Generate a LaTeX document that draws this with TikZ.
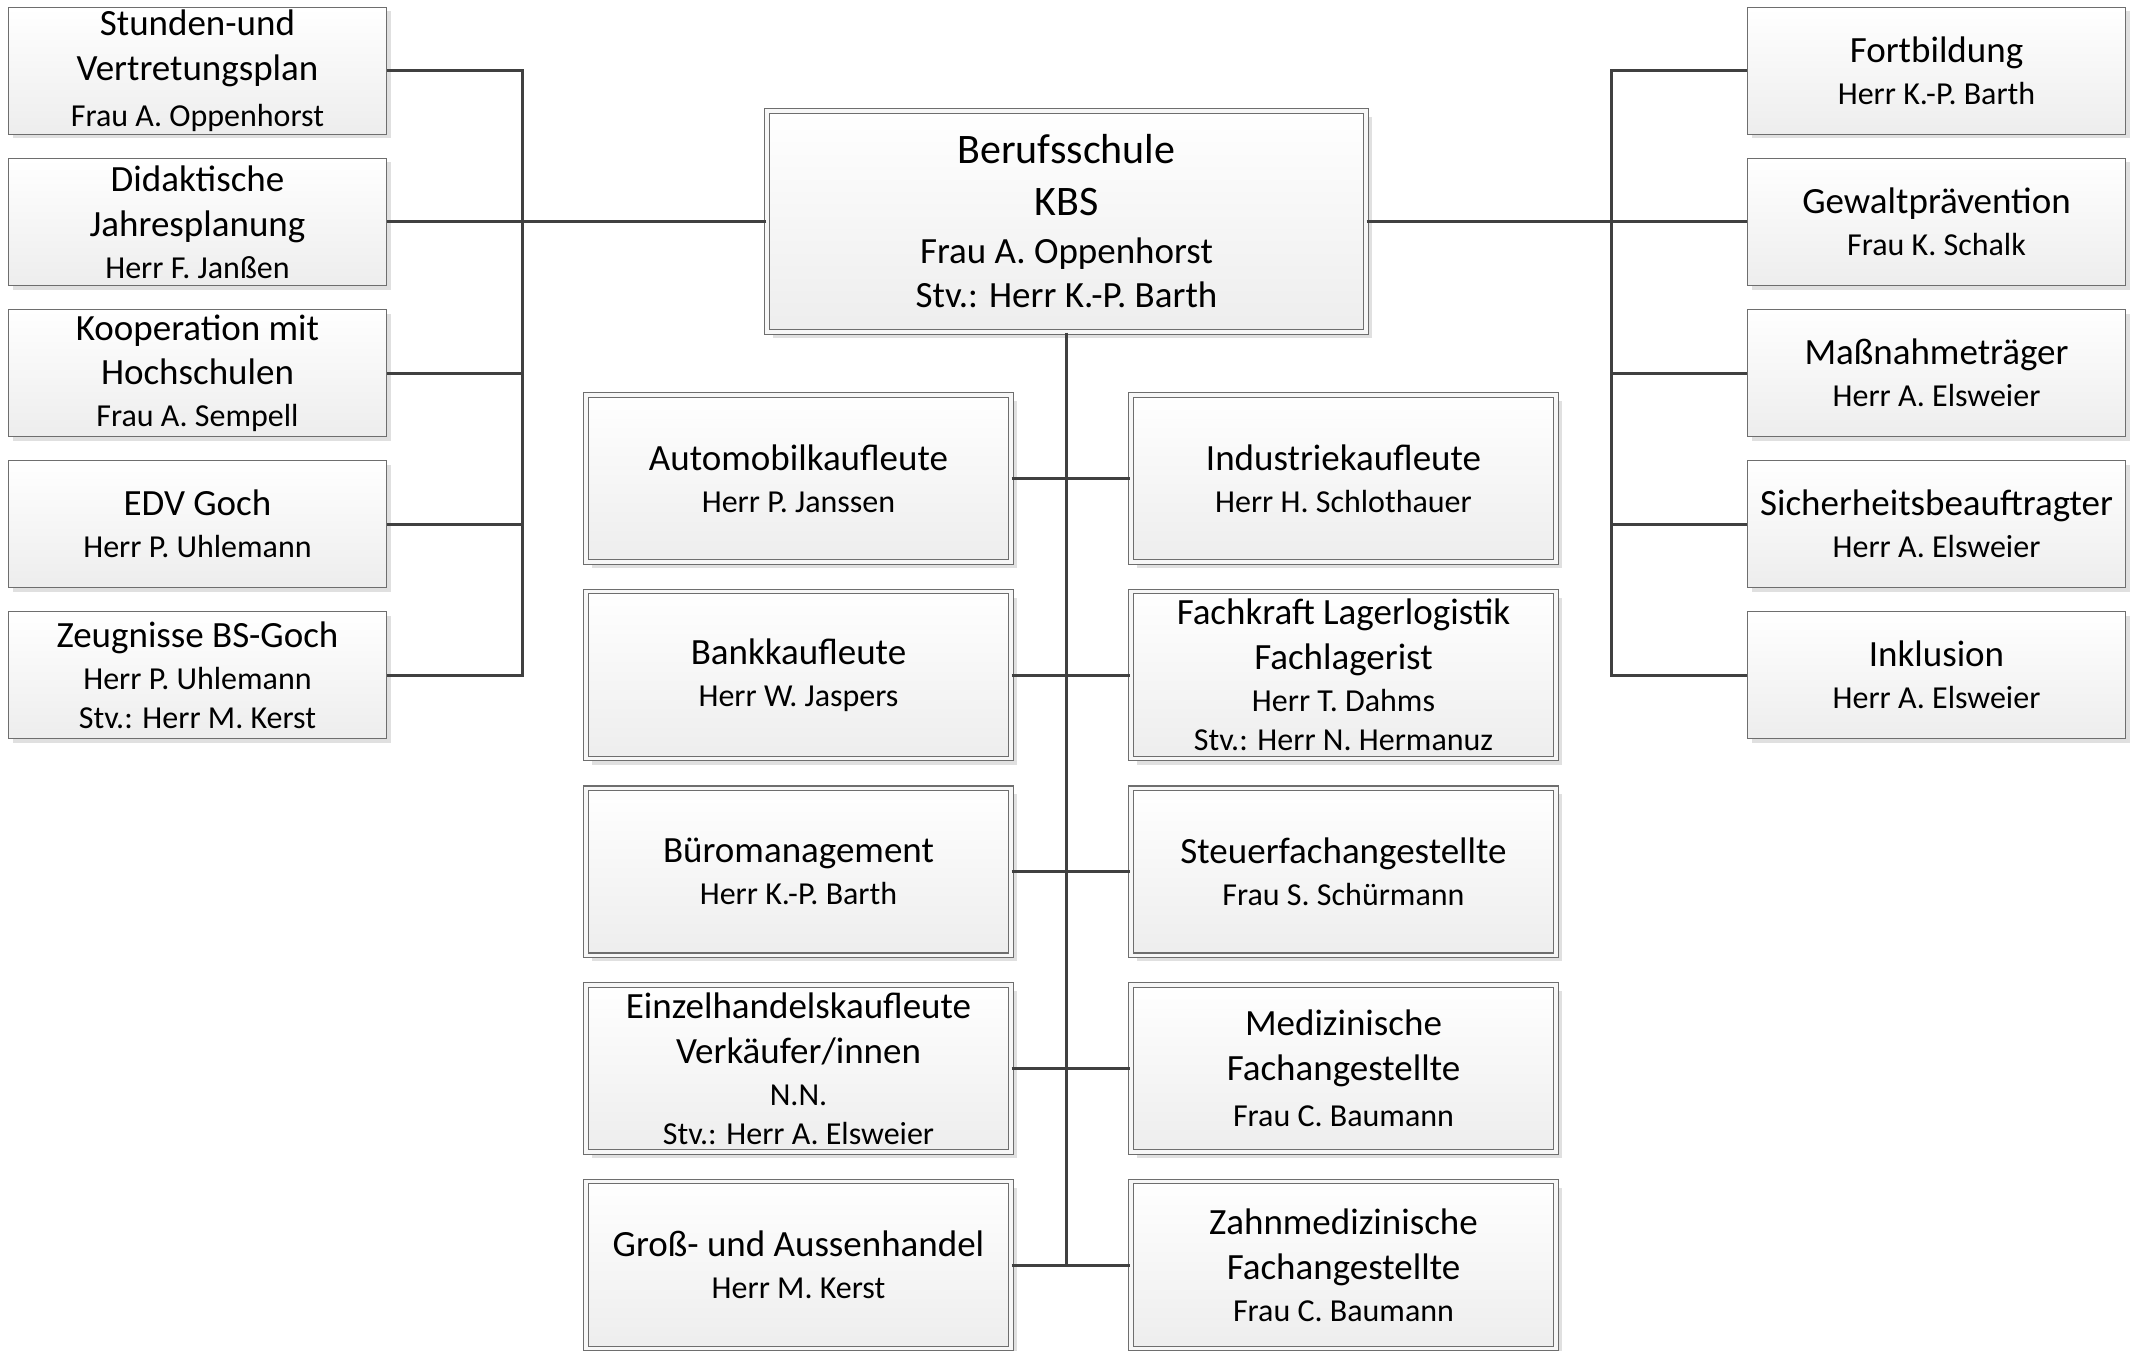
\documentclass[tikz,border=0pt]{standalone}
\usepackage{fontspec}
\setmainfont{Carlito}
\usetikzlibrary{shadows}
\definecolor{bordergray}{HTML}{6E6E6E}
\definecolor{linegray}{HTML}{404040}
\tikzset{
  box/.style={draw=bordergray, line width=1.3pt, top color=white, bottom color=black!7,
    inner sep=0pt, align=center, font=\fontsize{37}{42}\selectfont},
  sidebox/.style={box, minimum width=378pt, minimum height=127pt,
    drop shadow={shadow xshift=4pt, shadow yshift=-4pt, fill=black!12, opacity=1}},
  midbox/.style={box, double=white!97!black, double distance=3.4pt, line width=1.1pt,
    minimum width=425pt, minimum height=167pt,
    drop shadow={shadow xshift=6pt, shadow yshift=-6pt, fill=black!12, opacity=1}},
  topbox/.style={midbox, minimum width=599pt, minimum height=221pt,
    font=\fontsize{42}{48}\selectfont},
  conn/.style={draw=linegray, line width=3pt},
}
\newcommand{\nm}{\fontsize{32}{39}\selectfont}
\newcommand{\tnm}{\fontsize{37}{44}\selectfont}
\begin{document}
\begin{tikzpicture}[x=1pt,y=-1pt]
\useasboundingbox (0,0) rectangle (2136,1351);

% central box
\node[topbox] (C) at (1066.5,221.5) {Berufsschule\\[4pt]KBS\\\tnm Frau A. Oppenhorst\\[-4pt]\tnm Stv.: Herr K.-P. Barth};

% left column
\node[sidebox] (L1) at (197.5,71) {Stunden-und\\[3pt]Vertretungsplan\\[4pt]\nm Frau A. Oppenhorst};
\node[sidebox] (L2) at (197.5,222) {Didaktische\\[3pt]Jahresplanung\\\nm Herr F. Janßen};
\node[sidebox] (L3) at (197.5,373) {Kooperation mit\\[2pt]Hochschulen\\\nm Frau A. Sempell};
\node[sidebox] (L4) at (197.5,524) {EDV Goch\\\nm Herr P. Uhlemann};
\node[sidebox] (L5) at (197.5,675) {Zeugnisse BS-Goch\\\nm Herr P. Uhlemann\\[-3pt]\nm Stv.: Herr M. Kerst};

% right column
\node[sidebox] (R1) at (1936.5,71) {Fortbildung\\\nm Herr K.-P. Barth};
\node[sidebox] (R2) at (1936.5,222) {Gewaltprävention\\\nm Frau K. Schalk};
\node[sidebox] (R3) at (1936.5,373) {Maßnahmeträger\\\nm Herr A. Elsweier};
\node[sidebox] (R4) at (1936.5,524) {Sicherheitsbeauftragter\\\nm Herr A. Elsweier};
\node[sidebox] (R5) at (1936.5,675) {Inklusion\\\nm Herr A. Elsweier};

% middle left column
\node[midbox] (ML1) at (798.5,478.5) {Automobilkaufleute\\\nm Herr P. Janssen};
\node[midbox] (ML2) at (798.5,675) {Bankkaufleute\\\nm Herr W. Jaspers};
\node[midbox] (ML3) at (798.5,871.7) {Büromanagement\\\nm Herr K.-P. Barth};
\node[midbox] (ML4) at (798.5,1068.3) {Einzelhandelskaufleute\\[3pt]Verkäufer/innen\\\nm N.N.\\[-3pt]\nm Stv.: Herr A. Elsweier};
\node[midbox] (ML5) at (798.5,1265) {Groß- und Aussenhandel\\\nm Herr M. Kerst};

% middle right column
\node[midbox] (MR1) at (1343.5,478.5) {Industriekaufleute\\\nm Herr H. Schlothauer};
\node[midbox] (MR2) at (1343.5,675) {Fachkraft Lagerlogistik\\[3pt]Fachlagerist\\\nm Herr T. Dahms\\[-3pt]\nm Stv.: Herr N. Hermanuz};
\node[midbox] (MR3) at (1343.5,871.7) {Steuerfachangestellte\\\nm Frau S. Schürmann};
\node[midbox] (MR4) at (1343.5,1068.3) {Medizinische\\[3pt]Fachangestellte\\[4pt]\nm Frau C. Baumann};
\node[midbox] (MR5) at (1343.5,1265) {Zahnmedizinische\\[3pt]Fachangestellte\\\nm Frau C. Baumann};

% bus coordinates
\coordinate (bl) at (522,221.5);
\coordinate (br) at (1611,221.5);

% left connectors
\foreach \i in {1,...,5} {\draw[conn] (L\i.east) -- (L\i.east -| bl);}
\draw[conn, line cap=rect] (L1.east -| bl) -- (L5.east -| bl);
\draw[conn] (C.west) -- (bl);

% right connectors
\foreach \i in {1,...,5} {\draw[conn] (R\i.west) -- (R\i.west -| br);}
\draw[conn, line cap=rect] (R1.west -| br) -- (R5.west -| br);
\draw[conn] (C.east) -- (br);

% middle connectors
\draw[conn] (C.south) -- (C.south |- ML5.east);
\foreach \i in {1,...,5} {\draw[conn] (ML\i.east) -- (MR\i.west);}
\end{tikzpicture}
\end{document}
